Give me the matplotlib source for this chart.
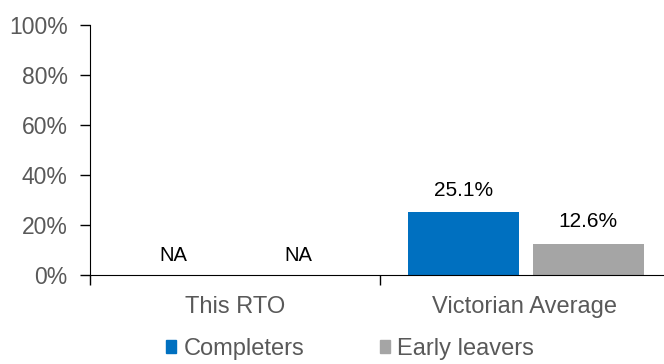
import matplotlib.pyplot as plt
import numpy as np
from matplotlib.patches import Patch

plt.rcParams['font.family'] = ['Liberation Sans', 'DejaVu Sans']

categories = ["This RTO", "Victorian Average"]
series = ["Completers", "Early leavers"]
completers = [np.nan, 25.1]
early_leavers = [np.nan, 12.6]
colors = ["#0070C0", "#A5A5A5"]
grey_text = "#595959"

fig = plt.figure(figsize=(6.64, 3.64), dpi=100)
ax = fig.add_axes([90 / 664, 1 - 275 / 364, 574 / 664, 250 / 364])

x = np.arange(len(categories))
width = 0.383
offsets = [-0.213, 0.218]
for vals, off, col in zip([completers, early_leavers], offsets, colors):
    for xi, v in zip(x, vals):
        if np.isnan(v):
            ax.text(xi + off, 4.0, "NA", ha="center", va="bottom", fontsize=14.5, color="black")
        else:
            ax.bar(xi + off, v, width, color=col)
            ax.text(xi + off, v + 5.0, f"{v:.1f}%", ha="center", va="bottom", fontsize=15, color="black")

ax.set_ylim(0, 100)
ax.set_xlim(-0.5, -0.5 + 574 / 290)
ax.set_yticks(np.arange(0, 101, 20))
ax.set_yticklabels([f"{t}%" for t in range(0, 101, 20)], fontsize=16.5, color=grey_text)
ax.tick_params(axis="y", direction="out", length=7, width=1, color="black", pad=9)

ax.set_xticks(x)
ax.set_xticklabels(categories, fontsize=17, color=grey_text)
ax.tick_params(axis="x", which="major", length=0, pad=15)
ax.set_xticks([-0.5, 0.5], minor=True)
ax.tick_params(axis="x", which="minor", direction="out", length=7, width=1, color="black")

for s in ["top", "right"]:
    ax.spines[s].set_visible(False)
ax.spines["left"].set_color("black")
ax.spines["bottom"].set_color("black")

handles = [Patch(color=c) for c in colors]
fig.legend(handles, series, loc="center", bbox_to_anchor=(350 / 664, 1 - 349 / 364),
           ncol=2, frameon=False, fontsize=17, labelcolor=grey_text,
           handlelength=0.45, handleheight=0.45, handletextpad=0.3, columnspacing=3.2)

fig.savefig("out.png", dpi=100)
